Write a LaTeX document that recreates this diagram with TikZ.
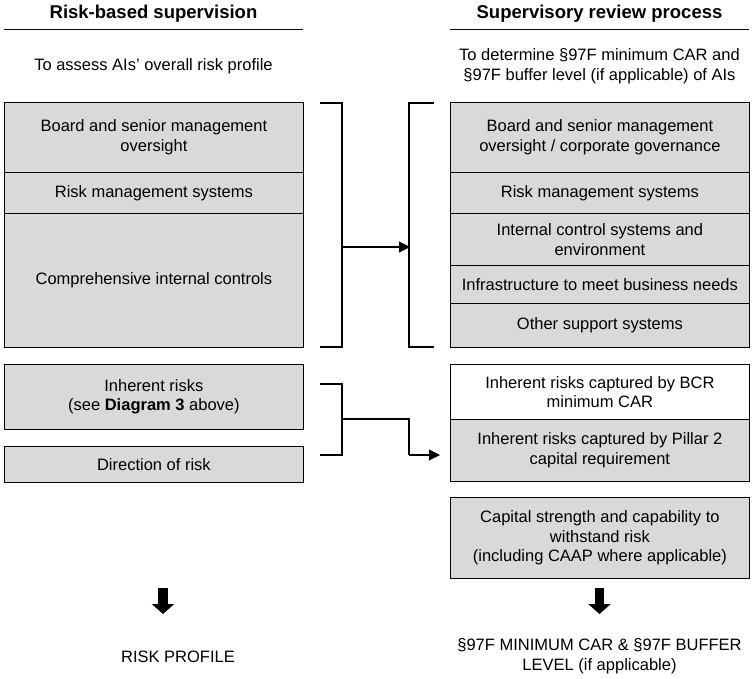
\documentclass[tikz,border=0pt]{standalone}
\usepackage{fontspec}
\setmainfont{Liberation Sans}
\usetikzlibrary{arrows.meta}
\definecolor{boxgray}{RGB}{217,217,217}
\newcommand{\bodyfont}{\fontsize{16.5}{19.5}\selectfont}
\newcommand{\hdrfont}{\fontsize{18.5}{22}\selectfont\bfseries}
\begin{document}
\begin{tikzpicture}[x=1pt,y=-1pt,
  box/.style={draw=black, line width=0.8pt, fill=boxgray, minimum width=299pt,
    inner sep=0pt, align=center, anchor=north west, font=\bodyfont},
  wbox/.style={box, fill=white},
  plain/.style={align=center, font=\bodyfont, inner sep=0pt},
  hdr/.style={font=\hdrfont, inner sep=0pt},
  rule/.style={line width=0.8pt},
  conn/.style={line width=1.1pt},
  arr/.style={conn, -{Triangle[length=11pt,width=11pt]}},
  bigarr/.style={line width=9.5pt, -{Triangle[length=10pt,width=22pt]}}
]
\useasboundingbox (0,0) rectangle (752,678);

% headers
\node[hdr] (lh) at (153.5,14) {Risk-based supervision};
\node[hdr] (rh) at (599.5,14) {Supervisory review process};
\draw[rule] (4,29) -- (303,29);
\draw[rule] (450,29) -- (749,29);

\node[plain] (lsub) at (153.5,66) {To assess AIs’ overall risk profile};
\node[plain] (rsub) at (599.5,66) {To determine §97F minimum CAR and\\§97F buffer level (if applicable) of AIs};

% left boxes
\node[box, minimum height=70pt] (lb1) at (4,102) {Board and senior management\\oversight};
\node[box, minimum height=41pt] (lb2) at (4,172) {Risk management systems};
\node[box, minimum height=134pt] (lb3) at (4,213) {Comprehensive internal controls};
\node[box, minimum height=65pt] (lb4) at (4,364) {Inherent risks\\(see \textbf{Diagram 3} above)};
\node[box, minimum height=36pt] (lb5) at (4,446) {Direction of risk};

% right boxes
\node[box, minimum height=70pt] (rb1) at (450,102) {Board and senior management\\oversight / corporate governance};
\node[box, minimum height=41pt] (rb2) at (450,172) {Risk management systems};
\node[box, minimum height=52pt] (rb3) at (450,213) {Internal control systems and\\environment};
\node[box, minimum height=38pt] (rb4) at (450,265) {Infrastructure to meet business needs};
\node[box, minimum height=44pt] (rb5) at (450,303) {Other support systems};
\node[wbox, minimum height=55pt] (rb6) at (450,364) {Inherent risks captured by BCR\\minimum CAR};
\node[box, minimum height=62pt] (rb7) at (450,419) {Inherent risks captured by Pillar 2\\capital requirement};
\node[box, minimum height=81pt] (rb8) at (450,497) {Capital strength and capability to\\withstand risk\\(including CAAP where applicable)};

% bracket 1
\coordinate (a1) at (320,103); \coordinate (a2) at (342,103);
\coordinate (a3) at (342,347); \coordinate (a4) at (320,347);
\coordinate (c1) at (434,103); \coordinate (c2) at (409,103);
\coordinate (c3) at (409,347); \coordinate (c4) at (434,347);
\coordinate (am) at (342,247); \coordinate (cm) at (410,247);
\draw[conn] (a1) -- (a2) -- (a3) -- (a4);
\draw[conn] (c1) -- (c2) -- (c3) -- (c4);
\draw[arr] (am) -- (cm);

% bracket 2
\coordinate (d1) at (320,384); \coordinate (d2) at (342,384);
\coordinate (d3) at (342,455); \coordinate (d4) at (320,455);
\coordinate (dm) at (342,419); \coordinate (e1) at (409,419);
\coordinate (e2) at (409,455); \coordinate (e3) at (440,455);
\draw[conn] (d1) -- (d2) -- (d3) -- (d4);
\draw[conn] (dm) -- (e1) -- (e2);
\draw[arr] (e2) -- (e3);

% bottom
\node[plain] (lout) at (178,657) {RISK PROFILE};
\node[plain] (rout) at (599.5,656) {§97F MINIMUM CAR \& §97F BUFFER\\LEVEL (if applicable)};
\coordinate (la) at (163,588); \coordinate (lt) at (163,614);
\coordinate (ra) at (599.5,588); \coordinate (rt) at (599.5,614);
\draw[bigarr] (la) -- (lt);
\draw[bigarr] (ra) -- (rt);
\end{tikzpicture}
\end{document}
